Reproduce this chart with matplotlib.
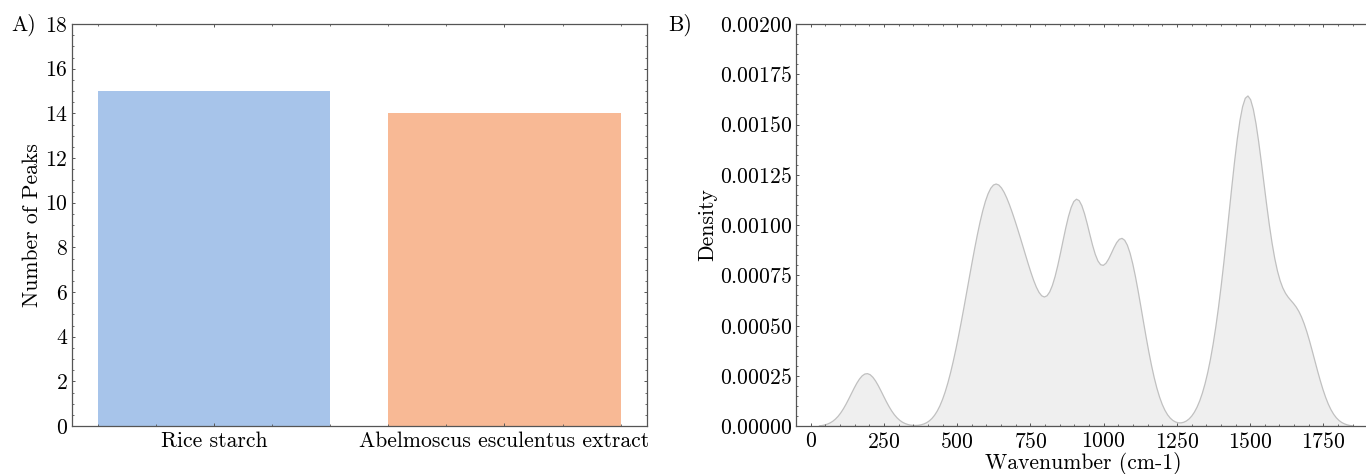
import numpy as np
import matplotlib
matplotlib.use('Agg')
import matplotlib.pyplot as plt
from matplotlib.ticker import MultipleLocator, AutoMinorLocator
import seaborn as sns

# Panel A data
categories = ['Rice starch', 'Abelmoscus esculentus extract']
peak_counts = [15, 14]
bar_colors = ['#a7c4ea', '#f8b995']

# Panel B data: peak wavenumbers (cm-1) whose density is shown
wavenumbers = [190, 520, 575, 595, 630, 640, 675, 720, 745, 825,
               900, 905, 905, 935, 1035, 1050, 1075, 1115,
               1400, 1470, 1470, 1480, 1495, 1500, 1520, 1575, 1645, 1685]
bw_adjust = 0.2557

plt.rcParams.update({
    'font.family': 'serif', 'font.serif': ['cmr10'], 'mathtext.fontset': 'cm',
    'axes.formatter.use_mathtext': True, 'axes.unicode_minus': False,
    'font.size': 15.6,
    'xtick.direction': 'in', 'ytick.direction': 'in',
    'xtick.top': True, 'ytick.right': True,
    'xtick.major.size': 2.5, 'ytick.major.size': 2.5,
    'xtick.minor.size': 1.3, 'ytick.minor.size': 1.3,
    'xtick.major.width': 0.7, 'ytick.major.width': 0.7,
    'xtick.minor.width': 0.6, 'ytick.minor.width': 0.6,
    'xtick.color': '#555555', 'ytick.color': '#555555',
    'xtick.labelcolor': 'black', 'ytick.labelcolor': 'black',
    'axes.linewidth': 0.9, 'axes.edgecolor': '#555555',
})

fig = plt.figure(figsize=(13.66, 4.74), dpi=100)

# Panel A
ax1 = fig.add_axes([72 / 1366, 48 / 474, 574.7 / 1366, 402 / 474])
ax1.bar(categories, peak_counts, color=bar_colors, width=0.8)
ax1.set_ylim(0, 18)
ax1.yaxis.set_major_locator(MultipleLocator(2))
ax1.yaxis.set_minor_locator(AutoMinorLocator())
ax1.xaxis.set_minor_locator(MultipleLocator(0.2))
ax1.set_ylabel('Number of Peaks', labelpad=2)
ax1.tick_params(axis='x', which='major', pad=4)
ax1.tick_params(axis='y', which='major', pad=3)

# Panel B
ax2 = fig.add_axes([796 / 1366, 48 / 474, 574 / 1366, 402 / 474])
sns.kdeplot(x=wavenumbers, bw_adjust=bw_adjust, fill=True, color='silver',
            linewidth=0.9, ax=ax2)
ax2.set_xlim(-50.2, 1909)
ax2.set_ylim(0, 0.002)
ax2.xaxis.set_major_locator(MultipleLocator(250))
ax2.xaxis.set_minor_locator(MultipleLocator(50))
ax2.yaxis.set_major_locator(MultipleLocator(0.00025))
ax2.yaxis.set_minor_locator(AutoMinorLocator())
ax2.set_xlabel('Wavenumber (cm-1)', labelpad=0)
ax2.set_ylabel('Density', labelpad=2)
ax2.tick_params(axis='x', which='major', pad=4)
ax2.tick_params(axis='y', which='major', pad=3)

fig.text(11 / 1366, 1 - 25 / 474, 'A)', va='center', ha='left')
fig.text(668 / 1366, 1 - 25 / 474, 'B)', va='center', ha='left')

fig.savefig('out.png', dpi=100)
